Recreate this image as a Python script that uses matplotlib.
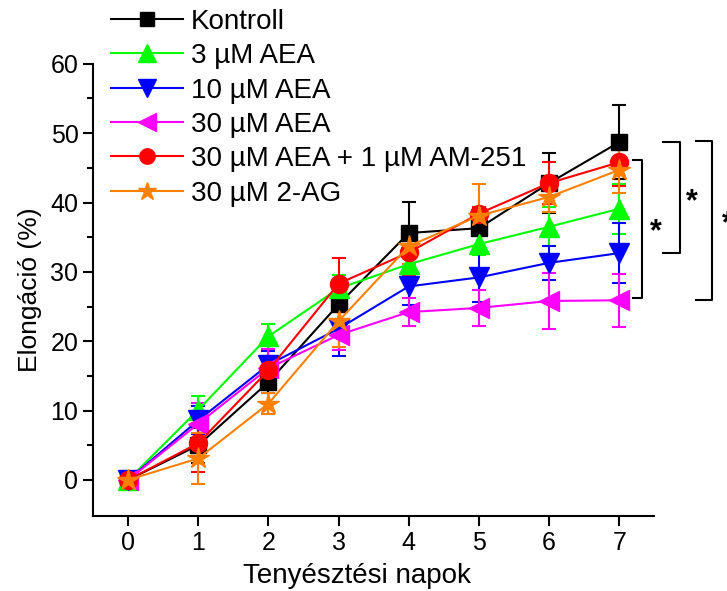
import numpy as np
import matplotlib
matplotlib.use("Agg")
import matplotlib.pyplot as plt

plt.rcParams['font.family'] = ['Liberation Sans', 'DejaVu Sans']

days = [0, 1, 2, 3, 4, 5, 6, 7]

labels = ["Kontroll", "3 µM AEA", "10 µM AEA", "30 µM AEA",
          "30 µM AEA + 1 µM AM-251", "30 µM 2-AG"]
colors = ["black", "#00ff00", "#0000ff", "#ff00ff", "#ff0000", "#ff8000"]
markers = ["s", "^", "v", "<", "o", "*"]
msizes = [12, 15, 15, 15, 13, 16]

kontroll = [0.0, 5.0, 14.1, 25.3, 35.6, 36.3, 42.8, 48.7]
aea3 = [0.0, 10.1, 20.7, 27.6, 31.1, 34.0, 36.5, 39.1]
aea10 = [0.0, 8.6, 16.6, 21.8, 27.9, 29.2, 31.3, 32.7]
aea30 = [0.0, 8.1, 16.1, 20.9, 24.2, 24.8, 25.8, 25.9]
aea30_am = [0.0, 5.3, 15.8, 28.3, 32.8, 38.4, 42.8, 45.8]
ag2 = [0.0, 3.1, 11.0, 22.9, 33.7, 38.1, 40.8, 44.7]

kontroll_err = [0.5, 2.5, 1.5, 2.5, 4.5, 2.7, 4.3, 5.3]
aea3_err = [0.5, 2.0, 1.8, 2.0, 1.0, 1.5, 2.8, 3.6]
aea10_err = [0.8, 2.0, 2.0, 4.0, 2.7, 3.5, 2.5, 4.3]
aea30_err = [0.5, 3.0, 2.8, 2.2, 2.0, 2.6, 4.1, 3.8]
aea30_am_err = [0.5, 4.1, 2.0, 3.7, 3.2, 1.0, 3.0, 3.4]
ag2_err = [0.5, 3.7, 1.5, 3.8, 2.5, 4.5, 2.2, 3.4]

series = [kontroll, aea3, aea10, aea30, aea30_am, ag2]
errors = [kontroll_err, aea3_err, aea10_err, aea30_err, aea30_am_err, ag2_err]

fig = plt.figure(figsize=(7.27, 5.91), dpi=100)
ax = fig.add_axes([0.128, 0.127, 0.772, 0.765])

handles = []
for y, e, c, m, ms, lab in zip(series, errors, colors, markers, msizes, labels):
    cont = ax.errorbar(days, y, yerr=e, color=c, marker=m, markersize=ms,
                       linewidth=1.5, elinewidth=1.5, capsize=5, capthick=1.5,
                       label=lab)
    handles.append(cont.lines[0])

# significance brackets
brackets = [(7.19, 7.33, 46.2, 26.3, 7.52),
            (7.62, 7.86, 48.7, 32.7, 8.03),
            (8.10, 8.32, 48.9, 26.0, 8.55)]
for x0, x1, ytop, ybot, xs in brackets:
    ax.plot([x0, x1, x1, x0], [ytop, ytop, ybot, ybot], color="black",
            linewidth=1.5, clip_on=False)
    ax.text(xs, (ytop + ybot) / 2 - 0.6, "*", fontsize=22, fontweight="bold",
            ha="center", va="center", clip_on=False)

ax.set_xlim(-0.5, 7.5)
ax.set_ylim(-5.2, 60)
ax.set_xticks(days)
ax.set_yticks([0, 10, 20, 30, 40, 50, 60])
ax.set_yticks([5, 15, 25, 35, 45, 55], minor=True)
ax.spines['top'].set_visible(False)
ax.spines['right'].set_visible(False)
for s in ['left', 'bottom']:
    ax.spines[s].set_linewidth(1.5)
ax.tick_params(axis='both', which='major', direction='out', length=7,
               width=1.5, labelsize=18)
ax.tick_params(axis='y', which='minor', direction='out', length=4, width=1.5)

ax.set_xlabel("Tenyésztési napok", fontsize=20)
ax.xaxis.set_label_coords(0.47, -0.105)
ax.set_ylabel("Elongáció (%)", fontsize=19, labelpad=6)

ax.legend(handles, labels, loc='upper left', bbox_to_anchor=(0.152, 0.985),
          bbox_transform=fig.transFigure, frameon=False, fontsize=20,
          handlelength=2.6, handletextpad=0.3, labelspacing=0.3,
          markerscale=0.85, borderpad=0, borderaxespad=0)

fig.savefig("out.png", dpi=100)
